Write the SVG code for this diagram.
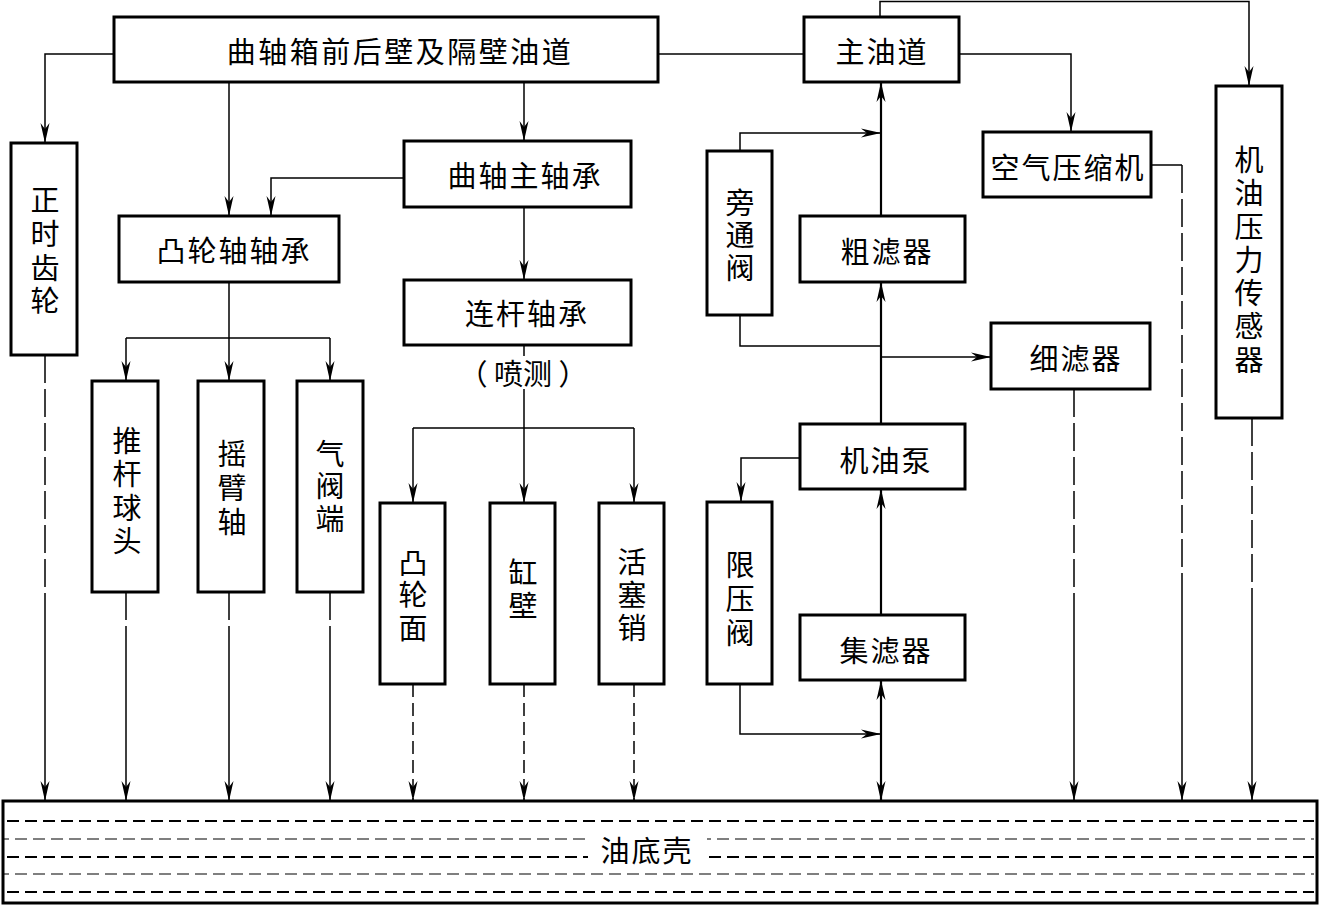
<svg xmlns="http://www.w3.org/2000/svg" width="1320" height="905" viewBox="0 0 1320 905">
<style>
.box{fill:#fff;stroke:#000;stroke-width:3}
.t{font-family:"Noto Sans CJK SC","Noto Sans CJK JP",sans-serif;font-size:29px;fill:#000;text-anchor:middle;dominant-baseline:central;letter-spacing:2px}
.v{font-family:"Noto Sans CJK SC","Noto Sans CJK JP",sans-serif;font-size:29px;fill:#000;text-anchor:middle;writing-mode:vertical-rl;text-orientation:upright}
.ln{fill:none;stroke:#000;stroke-width:1.5}
.thk{stroke-width:2.2}
.dl{stroke-dasharray:28 6}
.dl2{stroke-dasharray:13 6}
.sd1{fill:none;stroke:#000;stroke-width:2;stroke-dasharray:12 6}
.sd2{fill:none;stroke:#000;stroke-width:1.2;stroke-dasharray:12 6}
</style>
<defs>
<marker id="ah" viewBox="-22 -6 24 12" refX="0" refY="0" markerWidth="24" markerHeight="12" markerUnits="userSpaceOnUse" orient="auto-start-reverse">
<path d="M0,0 L-20,-4.5 L-14,0 L-20,4.5 Z" fill="#000" stroke="none"/>
</marker>
</defs>
<rect width="1320" height="905" fill="#fff"/>

<g id="connectors">
<path class="ln" d="M114,54 H45 V143" marker-end="url(#ah)"/>
<path class="ln" d="M229,82 V216" marker-end="url(#ah)"/>
<path class="ln" d="M404,178 H271 V216" marker-end="url(#ah)"/>
<path class="ln" d="M524,82 V141" marker-end="url(#ah)"/>
<path class="ln" d="M524,207 V280" marker-end="url(#ah)"/>
<path class="ln" d="M658,54 H804"/>
<path class="ln" d="M880,17 V1.5 H1249 V86" marker-end="url(#ah)"/>
<path class="ln" d="M959,54 H1071 V132" marker-end="url(#ah)"/>
<path class="ln" d="M1151,165 H1182"/>
<path class="ln dl" d="M1182,165 V600"/>
<path class="ln" d="M1182,600 V801" marker-end="url(#ah)"/>
<path class="ln dl" d="M1252,418 V600"/>
<path class="ln" d="M1252,600 V801" marker-end="url(#ah)"/>
<path class="ln dl" d="M1074,389 V600"/>
<path class="ln" d="M1074,600 V801" marker-end="url(#ah)"/>
<path class="ln thk" d="M881,216 V82" marker-end="url(#ah)"/>
<path class="ln" d="M740,151 V133 H881" marker-end="url(#ah)"/>
<path class="ln thk" d="M881,424 V282" marker-end="url(#ah)"/>
<path class="ln" d="M740,315 V346 H881"/>
<path class="ln" d="M881,357 H991" marker-end="url(#ah)"/>
<path class="ln" d="M800,458 H741 V502" marker-end="url(#ah)"/>
<path class="ln thk" d="M881,615 V489" marker-end="url(#ah)"/>
<path class="ln thk" d="M881,801 V680" marker-start="url(#ah)" marker-end="url(#ah)"/>
<path class="ln" d="M740,684 V734 H881" marker-end="url(#ah)"/>
<path class="ln" d="M229,282 V338 M126,338 H330"/>
<path class="ln" d="M126,338 V381" marker-end="url(#ah)"/>
<path class="ln" d="M229,338 V381" marker-end="url(#ah)"/>
<path class="ln" d="M330,338 V381" marker-end="url(#ah)"/>
<path class="ln" d="M524,345 V356 M524,389 V428 M413,428 H634"/>
<path class="ln" d="M413,428 V503" marker-end="url(#ah)"/>
<path class="ln" d="M524,428 V503" marker-end="url(#ah)"/>
<path class="ln" d="M634,428 V503" marker-end="url(#ah)"/>
<path class="ln dl" d="M45,355 V600"/>
<path class="ln" d="M45,600 V801" marker-end="url(#ah)"/>
<path class="ln dl" d="M126,592 V640"/>
<path class="ln" d="M126,640 V801" marker-end="url(#ah)"/>
<path class="ln dl" d="M229,592 V640"/>
<path class="ln" d="M229,640 V801" marker-end="url(#ah)"/>
<path class="ln dl" d="M330,592 V640"/>
<path class="ln" d="M330,640 V801" marker-end="url(#ah)"/>
<path class="ln dl2" d="M413,684 V801" marker-end="url(#ah)"/>
<path class="ln dl2" d="M524,684 V801" marker-end="url(#ah)"/>
<path class="ln dl2" d="M634,684 V801" marker-end="url(#ah)"/>
</g>

<g id="n-crankcase"><rect class="box" x="114" y="17" width="544" height="65"/><text class="t" x="400" y="50" style="letter-spacing:2.5px">曲轴箱前后壁及隔壁油道</text></g>
<g id="n-main-gallery"><rect class="box" x="804" y="17" width="155" height="65"/><text class="t" x="882" y="50">主油道</text></g>
<g id="n-timing-gear"><rect class="box" x="11" y="143" width="66" height="212"/>
<text class="v" x="45" y="253" style="letter-spacing:4.7px">正时齿轮</text></g>
<g id="n-cam-bearing"><rect class="box" x="119" y="216" width="220" height="66"/><text class="t" x="234" y="249">凸轮轴轴承</text></g>
<g id="n-main-bearing"><rect class="box" x="404" y="141" width="227" height="66"/><text class="t" x="525" y="174">曲轴主轴承</text></g>
<g id="n-rod-bearing"><rect class="box" x="404" y="280" width="227" height="65"/><text class="t" x="527" y="312">连杆轴承</text></g>
<g id="n-spray"><text class="t" x="523" y="372" style="letter-spacing:0px">（ 喷测 ）</text></g>
<g id="n-bypass"><rect class="box" x="707" y="151" width="65" height="164"/>
<text class="v" x="740" y="237" style="letter-spacing:3.5px">旁通阀</text></g>
<g id="n-coarse"><rect class="box" x="800" y="216" width="165" height="66"/><text class="t" x="887" y="250">粗滤器</text></g>
<g id="n-compressor"><rect class="box" x="983" y="132" width="168" height="65"/><text class="t" x="1068" y="166">空气压缩机</text></g>
<g id="n-sensor"><rect class="box" x="1216" y="86" width="66" height="332"/>
<text class="v" x="1249" y="262" style="letter-spacing:4.3px">机油压力传感器</text></g>
<g id="n-fine"><rect class="box" x="991" y="323" width="159" height="66"/><text class="t" x="1076" y="357">细滤器</text></g>
<g id="n-pump"><rect class="box" x="800" y="424" width="165" height="65"/><text class="t" x="886" y="459">机油泵</text></g>
<g id="n-strainer"><rect class="box" x="800" y="615" width="165" height="65"/><text class="t" x="886" y="649">集滤器</text></g>
<g id="n-relief"><rect class="box" x="707" y="502" width="65" height="182"/>
<text class="v" x="740" y="601.5" style="letter-spacing:5px">限压阀</text></g>
<g id="n-pushrod"><rect class="box" x="92" y="381" width="66" height="211"/>
<text class="v" x="127" y="493" style="letter-spacing:4.3px">推杆球头</text></g>
<g id="n-rocker"><rect class="box" x="198" y="381" width="66" height="211"/>
<text class="v" x="232" y="490.5" style="letter-spacing:5px">摇臂轴</text></g>
<g id="n-valve"><rect class="box" x="297" y="381" width="66" height="211"/>
<text class="v" x="330" y="488" style="letter-spacing:3.5px">气阀端</text></g>
<g id="n-cam-face"><rect class="box" x="380" y="503" width="65" height="181"/>
<text class="v" x="413" y="597" style="letter-spacing:3.5px">凸轮面</text></g>
<g id="n-cylinder"><rect class="box" x="490" y="503" width="65" height="181"/>
<text class="v" x="523" y="591.5" style="letter-spacing:4px">缸壁</text></g>
<g id="n-pin"><rect class="box" x="599" y="503" width="65" height="181"/>
<text class="v" x="632" y="597" style="letter-spacing:4px">活塞销</text></g>
<g id="n-sump">
<rect class="box" x="3" y="801" width="1314" height="102"/>
<line class="sd1" x1="7" y1="821" x2="1314" y2="821"/>
<line class="sd2" x1="3" y1="839" x2="1314" y2="839" stroke-dashoffset="6"/>
<line class="sd1" x1="7" y1="857" x2="1314" y2="857"/>
<line class="sd2" x1="3" y1="874" x2="1314" y2="874" stroke-dashoffset="6"/>
<line class="sd1" x1="7" y1="892" x2="1314" y2="892"/>
<rect x="588" y="831" width="119" height="35" fill="#fff"/>
<text class="t" x="647" y="849">油底壳</text>
</g>
</svg>
